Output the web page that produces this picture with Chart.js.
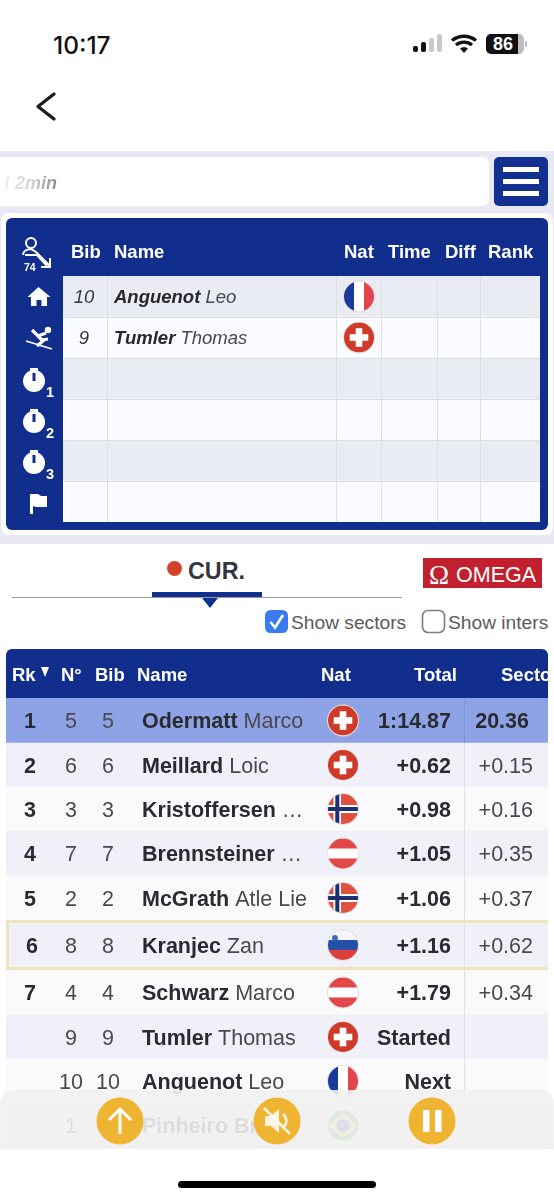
<!DOCTYPE html>
<html><head><meta charset="utf-8">
<script src="https://cdn.jsdelivr.net/npm/chart.js@4"></script>
<style>
html,body{margin:0;padding:0;background:#fff}
#page{position:relative;width:554px;height:1200px;overflow:hidden;background:#fff;font-family:"Liberation Sans",Arial,sans-serif}
#page>*{position:absolute}
.t{white-space:nowrap;line-height:1}
canvas{display:block}
</style></head><body>
<div id="page">
  <div class="t" style="left:53px;top:30px;font:500 24.5px Inter,Roboto,sans-serif;color:#111">10:17</div>
  <svg style="left:410px;top:30px" width="120" height="30" viewBox="0 0 120 30">
    <rect x="3" y="16" width="5" height="6" rx="2" fill="#111"/><rect x="11" y="12" width="5" height="10" rx="2" fill="#111"/>
    <rect x="19" y="8" width="5" height="14" rx="2" fill="#c9c9c9"/><rect x="27" y="4" width="5" height="18" rx="2" fill="#c9c9c9"/>
    <path d="M42 10.5a19 19 0 0 1 24 0M46 15a12.5 12.5 0 0 1 16 0" fill="none" stroke="#111" stroke-width="3.4"/><path d="M50 18.5a6 6 0 0 1 8 0L54 23z" fill="#111"/>
    <rect x="76" y="4" width="37" height="20" rx="5" fill="#111"/><path d="M108 4h1a5 5 0 0 1 5 5v10a5 5 0 0 1-5 5h-1z" fill="#bdbdbd"/><rect x="115" y="11" width="2" height="6" rx="1" fill="#bbb"/>
  </svg>
  <div class="t" style="left:487px;top:34px;width:32px;text-align:center;font:bold 18px 'Liberation Sans';color:#fff">86</div>
  <svg style="left:30px;top:86px" width="34" height="40" viewBox="0 0 34 40"><path d="M24 8L8 20.5 24 33" fill="none" stroke="#1f1f1f" stroke-width="3.4" stroke-linecap="round" stroke-linejoin="round"/></svg>

  <div style="left:0;top:151px;width:554px;height:393px;background:#e9e9f5"></div>
  <div style="left:-6px;top:157px;width:495px;height:49px;background:#fff;border-radius:6px"></div>
  <div class="t" style="left:5px;top:173px;font:italic 17px 'Liberation Sans';color:#e6e6e6">l</div>
  <div class="t" style="left:15px;top:173px;font:italic bold 18px 'Liberation Sans';background:linear-gradient(90deg,#e2e2e2,#d2d2d2 40%,#8a8a8a);-webkit-background-clip:text;background-clip:text;color:transparent">2min</div>
  <div style="left:494px;top:157px;width:54px;height:49px;background:#11308f;border-radius:5px"></div>
  <div style="left:503px;top:167px;width:36px;height:5px;background:#fff"></div>
  <div style="left:503px;top:179px;width:36px;height:5px;background:#fff"></div>
  <div style="left:503px;top:191px;width:36px;height:5px;background:#fff"></div>

  <div style="left:1px;top:213px;width:552px;height:322px;background:#fff;border-radius:8px"></div>
  <div style="left:0;top:544px;width:554px;height:606px;background:#fff;border-radius:8px 8px 0 0"></div>

  <canvas id="startChart" width="542" height="312" style="left:6px;top:218px;width:542px;height:312px"></canvas>
  <svg style="left:6px;top:218px" width="57" height="312" viewBox="0 0 57 312" fill="#fff" font-family="Liberation Sans" font-weight="bold">
    <g fill="none" stroke="#fff" stroke-width="2"><circle cx="25" cy="25" r="5"/><path d="M17 37c0-4 4-6 8-6l5 3 14 14M19 37l12 0 10 11"/><path d="M44 40v9h-9"/></g>
    <text x="18" y="53" font-size="10.5">74</text>
    <path d="M32.5 69l-11 10h3.5v9h5.5v-6h5v6h5.5v-9h3.5z"/>
    <circle cx="42" cy="112" r="3.2"/>
    <path d="M20 123l26 8" stroke="#fff" stroke-width="1.8"/>
    <path d="M26 112l6 6 8-3M32 118l5 5-6 5M36 122l6-1" fill="none" stroke="#fff" stroke-width="3.2"/>
    <rect x="24" y="150" width="8" height="3"/><circle cx="28" cy="163" r="11"/><rect x="26.5" y="155" width="3" height="8" fill="#122e8c"/><text x="40" y="179" font-size="14.5">1</text>
    <rect x="24" y="191" width="8" height="3"/><circle cx="28" cy="204" r="11"/><rect x="26.5" y="196" width="3" height="8" fill="#122e8c"/><text x="40" y="220" font-size="14.5">2</text>
    <rect x="24" y="232" width="8" height="3"/><circle cx="28" cy="245" r="11"/><rect x="26.5" y="237" width="3" height="8" fill="#122e8c"/><text x="40" y="261" font-size="14.5">3</text>
    <path d="M24 276h8l3 2h6l0 11h-11l-3-1v8h-3z"/>
  </svg>

  <div style="left:167px;top:561px;width:15px;height:15px;border-radius:50%;background:#d0432a"></div>
  <div class="t" style="left:188px;top:558px;font:bold 23.3px 'Liberation Sans';color:#33363f">CUR.</div>
  <div style="left:12px;top:597px;width:390px;height:1px;background:#9a9a9a"></div>
  <div style="left:152px;top:592px;width:110px;height:5px;background:#11308f"></div>
  <svg style="left:202px;top:598px" width="16" height="12"><path d="M0 0h16L8 10z" fill="#11308f"/></svg>
  <div style="left:423px;top:558px;width:119px;height:30px;background:#c2202f"></div>
  <div class="t" style="left:429px;top:560px;font:27px 'Liberation Serif';color:#fff">Ω</div>
  <div class="t" style="left:456px;top:563px;font:21.5px 'Liberation Sans';color:#fff">OMEGA</div>

  <svg style="left:264px;top:609px" width="25" height="25"><rect x="1" y="1" width="23" height="23" rx="5.5" fill="#3a7bf0"/><path d="M6.5 13l4.5 5.5 8-12.5" fill="none" stroke="#fff" stroke-width="2.6"/></svg>
  <div class="t" style="left:291px;top:612px;font:19.2px 'Liberation Sans';color:#5a5a5e">Show sectors</div>
  <svg style="left:421px;top:609px" width="25" height="25"><rect x="1.5" y="1.5" width="22" height="22" rx="5.5" fill="#fff" stroke="#7d7d7d" stroke-width="1.6"/></svg>
  <div class="t" style="left:448px;top:612px;font:19.2px 'Liberation Sans';color:#5a5a5e">Show inters</div>

  <canvas id="resultChart" width="542" height="499" style="left:6px;top:649px;width:542px;height:499px"></canvas>

  <div style="left:0;top:1090px;width:554px;height:59px;background:rgba(241,241,241,.9);border-radius:14px 14px 0 0"></div>
  <svg style="left:0;top:1090px" width="554" height="60" viewBox="0 0 554 60">
    <circle cx="120" cy="31" r="23.5" fill="#f0b433"/><path d="M120 44V19M109 30l11-11 11 11" fill="none" stroke="#fff" stroke-width="3"/>
    <circle cx="277" cy="31" r="23.5" fill="#f0b433"/><path d="M265 26h6l8-7v24l-8-7h-6z" fill="#fff" opacity=".85"/><path d="M283 24a9 9 0 0 1 0 14M264 18l26 26" fill="none" stroke="#fff" stroke-width="2.6" opacity=".85"/>
    <circle cx="432" cy="31" r="23.5" fill="#f0b433"/><rect x="423" y="20" width="6.5" height="22" rx="1" fill="#fff"/><rect x="435" y="20" width="6.5" height="22" rx="1" fill="#fff"/>
  </svg>
  <div style="left:178px;top:1181px;width:198px;height:7px;background:#000;border-radius:4px"></div>
</div>
<script>
// ---- start list panel ----
const startColumns = ["Bib", "Name", "Nat", "Time", "Diff", "Rank"];
const startBibs = ["10", "9", "", "", "", ""];
const startLast = ["Anguenot", "Tumler", "", "", "", ""];
const startFirst = ["Leo", "Thomas", "", "", "", ""];
const startNats = ["FRA", "SUI", "", "", "", ""];
// ---- results table ----
const resultColumns = ["Rk", "N°", "Bib", "Name", "Nat", "Total", "Secto"];
const ranks = ["1", "2", "3", "4", "5", "6", "7", "", "", ""];
const startNumbers = ["5", "6", "3", "7", "2", "8", "4", "9", "10", "1"];
const bibs = ["5", "6", "3", "7", "2", "8", "4", "9", "10", "1"];
const lastNames = ["Odermatt", "Meillard", "Kristoffersen", "Brennsteiner", "McGrath", "Kranjec", "Schwarz", "Tumler", "Anguenot", "Pinheiro Br"];
const firstNames = ["Marco", "Loic", "…", "…", "Atle Lie", "Zan", "Marco", "Thomas", "Leo", ".."];
const nats = ["SUI", "SUI", "NOR", "AUT", "NOR", "SLO", "AUT", "SUI", "FRA", "BRA"];
const totals = ["1:14.87", "+0.62", "+0.98", "+1.05", "+1.06", "+1.16", "+1.79", "Started", "Next", ""];
const sectors = ["20.36", "+0.15", "+0.16", "+0.35", "+0.37", "+0.62", "+0.34", "", "", ""];

const SANS = '"Liberation Sans"';
const BLUE = "#122e8c";

function flag(ctx, code, cx, cy, r) {
  ctx.save();
  ctx.beginPath(); ctx.arc(cx, cy, r + 1, 0, 7); ctx.fillStyle = "#e6dedd"; ctx.fill();
  ctx.beginPath(); ctx.arc(cx, cy, r, 0, 7); ctx.clip();
  const L = cx - r, T = cy - r, S = 2 * r;
  const bands = (cols, vertical) => cols.forEach((c, i) => {
    ctx.fillStyle = c;
    if (vertical) ctx.fillRect(L + S * i / cols.length, T, S / cols.length + .5, S);
    else ctx.fillRect(L, T + S * i / cols.length, S, S / cols.length + .5);
  });
  if (code === "FRA") bands(["#1b3a9e", "#fff", "#e2434d"], true);
  if (code === "AUT") bands(["#e2474a", "#fff", "#e2474a"], false);
  if (code === "SLO") {
    bands(["#f6f6f8", "#2450a8", "#dd3f3c"], false);
    ctx.fillStyle = "#3a6ab8"; ctx.beginPath(); ctx.arc(cx - 8, cy - 7, 3, 0, 7); ctx.fill();
  }
  if (code === "SUI") {
    ctx.fillStyle = "#cf3b2a"; ctx.fillRect(L, T, S, S);
    ctx.fillStyle = "#fff"; const a = r * .62, b = r * .22;
    ctx.fillRect(cx - a, cy - b, 2 * a, 2 * b); ctx.fillRect(cx - b, cy - a, 2 * b, 2 * a);
  }
  if (code === "NOR") {
    ctx.fillStyle = "#e0503f"; ctx.fillRect(L, T, S, S);
    ctx.fillStyle = "#fff"; ctx.fillRect(L, cy - 4, S, 8); ctx.fillRect(cx - 9.5, T, 7.5, S);
    ctx.fillStyle = "#1c2f72"; ctx.fillRect(L, cy - 2, S, 4); ctx.fillRect(cx - 7.7, T, 4, S);
  }
  if (code === "BRA") {
    ctx.fillStyle = "#3f9f5a"; ctx.fillRect(L, T, S, S);
    ctx.fillStyle = "#f1d34a"; ctx.beginPath(); ctx.moveTo(L, cy); ctx.lineTo(cx, T + 3); ctx.lineTo(L + S, cy); ctx.lineTo(cx, T + S - 3); ctx.fill();
    ctx.fillStyle = "#2d4aa0"; ctx.beginPath(); ctx.arc(cx, cy, r * .45, 0, 7); ctx.fill();
  }
  ctx.restore();
}
function text(ctx, s, x, y, font, color, align) {
  ctx.font = font; ctx.fillStyle = color; ctx.textAlign = align || "left"; ctx.textBaseline = "alphabetic";
  ctx.fillText(s, x, y);
}

// ---------- start panel chart ----------
const startHeaderX = [71, 114, 344, 388, 445, 488];
const startDividers = [107, 336, 381, 437, 480];
const startPlugin = {
  id: "startTable",
  beforeDraw(c) {
    const g = c.ctx; g.save();
    g.fillStyle = BLUE; g.beginPath(); g.roundRect(0, 0, c.width, c.height, 6); g.fill();
    g.restore();
  },
  afterDatasetsDraw(c) {
    const g = c.ctx, xs = c.scales.x, a = c.chartArea;
    g.save();
    g.fillStyle = "#dcdfe6";
    startDividers.forEach(v => g.fillRect(Math.round(xs.getPixelForValue(v)), a.top, 1, a.bottom - a.top));
    c.getDatasetMeta(0).data.forEach((b, i) => {
      if (i) { g.fillStyle = "#dcdfe6"; g.fillRect(a.left, Math.round(b.y - b.height / 2), a.right - a.left, 1); }
      const base = b.y + 6;
      if (startBibs[i]) text(g, startBibs[i], xs.getPixelForValue(84), base, `italic 18.5px ${SANS}`, "#38383c", "center");
      if (startLast[i]) {
        const x0 = xs.getPixelForValue(114);
        text(g, startLast[i], x0, base, `italic bold 18.5px ${SANS}`, "#27272b");
        const w = g.measureText(startLast[i] + " ").width;
        text(g, startFirst[i], x0 + w, base, `italic 18.5px ${SANS}`, "#48484c");
      }
      if (startNats[i]) flag(g, startNats[i], xs.getPixelForValue(359), b.y, 15);
    });
    startColumns.forEach((h, i) => text(g, h, xs.getPixelForValue(startHeaderX[i]), 40, `bold 18.5px ${SANS}`, "#fff"));
    g.restore();
  }
};
new Chart(document.getElementById("startChart"), {
  type: "bar",
  data: {
    labels: startBibs.map((_, i) => "row" + i),
    datasets: [{ data: startBibs.map(() => 540), backgroundColor: startBibs.map((_, i) => i % 2 ? "#fafbfe" : "#e9ecf3"), barPercentage: 1, categoryPercentage: 1 }]
  },
  options: {
    indexAxis: "y", responsive: false, animation: false, devicePixelRatio: 1,
    layout: { padding: { left: 57, top: 58, right: 8, bottom: 8 } },
    plugins: { legend: { display: false }, tooltip: { enabled: false } },
    scales: { x: { type: "linear", min: 63, max: 540, display: false }, y: { display: false } }
  },
  plugins: [startPlugin]
});

// ---------- results chart ----------
const headerX = [12, 61, 95, 137, 321, 414, 501];
const rowEdges = [0, 45, 89, 133, 178, 222, 272, 317, 361, 405, 450];
const resultPlugin = {
  id: "resultTable",
  afterDatasetsUpdate(c) {
    const top = c.chartArea.top;
    c.getDatasetMeta(0).data.forEach((b, i) => {
      b.y = top + (rowEdges[i] + rowEdges[i + 1]) / 2;
      b.height = rowEdges[i + 1] - rowEdges[i];
    });
  },
  beforeDraw(c) {
    const g = c.ctx; g.save();
    g.fillStyle = BLUE; g.beginPath(); g.roundRect(0, 0, c.width, c.chartArea.top, [6, 6, 0, 0]); g.fill();
    g.restore();
  },
  afterDatasetsDraw(c) {
    const g = c.ctx, xs = c.scales.x, a = c.chartArea;
    const X = v => xs.getPixelForValue(v);
    g.save();
    g.fillStyle = "#dfe0e8"; g.fillRect(Math.round(X(464)), a.top + 45, 1, a.bottom - a.top - 45);
    g.fillStyle = "#8094da"; g.fillRect(Math.round(X(464)), a.top, 1, 45);
    g.fillStyle = "#0e2a84"; g.fillRect(Math.round(X(315)), 0, 1, a.top);
    resultColumns.forEach((h, i) => text(g, h, X(headerX[i]), 32, `bold 18.5px ${SANS}`, "#fff"));
    g.fillStyle = "#fff"; g.beginPath(); g.moveTo(X(41), 18); g.lineTo(X(49), 18); g.lineTo(X(45), 28); g.fill();
    const meta = c.getDatasetMeta(0).data;
    const hl = meta[5];
    g.strokeStyle = "#f0e3bb"; g.lineWidth = 3;
    g.strokeRect(a.left + 1.5, hl.y - hl.height / 2 + 1.5, a.right + 10, hl.height - 3);
    const dark = "#2a2b31", mid = "#48494e";
    meta.forEach((b, i) => {
      const base = b.y + 7.5;
      text(g, ranks[i], X(i === 5 ? 32 : 30), base, `bold 21.5px ${SANS}`, dark, "center");
      text(g, startNumbers[i], X(71), base, `21.5px ${SANS}`, mid, "center");
      text(g, bibs[i], X(108), base, `21.5px ${SANS}`, mid, "center");
      const x0 = X(142);
      text(g, lastNames[i], x0, base, `bold 21.5px ${SANS}`, dark);
      const w = g.measureText(lastNames[i] + " ").width;
      text(g, firstNames[i], x0 + w, base, `21.5px ${SANS}`, mid);
      flag(g, nats[i], X(343), b.y, 15);
      text(g, totals[i], X(451), base, `bold 21.5px ${SANS}`, dark, "right");
      text(g, sectors[i], X(i ? 533 : 529), base, `${i ? "" : "bold "}21.5px ${SANS}`, i ? mid : dark, "right");
    });
    g.restore();
  }
};
new Chart(document.getElementById("resultChart"), {
  type: "bar",
  data: {
    labels: lastNames,
    datasets: [{
      data: lastNames.map(() => 548),
      backgroundColor: lastNames.map((_, i) => i === 0 ? "#8ea3e6" : (i % 2 ? "#f0f1f8" : "#fafafc")),
      barPercentage: 1, categoryPercentage: 1
    }]
  },
  options: {
    indexAxis: "y", responsive: false, animation: false, devicePixelRatio: 1,
    layout: { padding: { top: 49 } },
    plugins: { legend: { display: false }, tooltip: { enabled: false } },
    scales: { x: { type: "linear", min: 6, max: 548, display: false }, y: { display: false } }
  },
  plugins: [resultPlugin]
});
</script>
</body></html>
